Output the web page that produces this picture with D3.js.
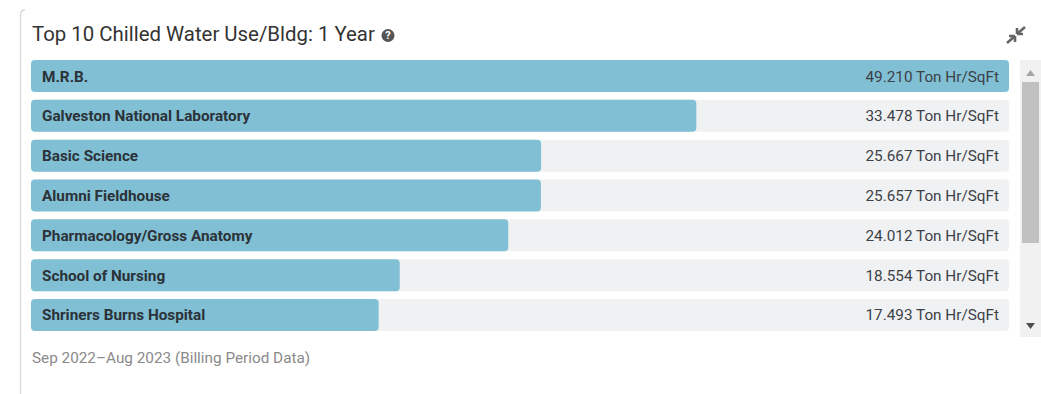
<!DOCTYPE html>
<html>
<head>
<meta charset="utf-8">
<script src="https://cdn.jsdelivr.net/npm/d3@7"></script>
<style>
  html, body { margin: 0; padding: 0; background: #fff; overflow: hidden; }
  svg { display: block; font-family: Roboto, sans-serif; }
</style>
</head>
<body>
<svg id="chart" width="1041" height="394"></svg>
<script>
// values
const buildings = ["M.R.B.", "Galveston National Laboratory", "Basic Science", "Alumni Fieldhouse",
  "Pharmacology/Gross Anatomy", "School of Nursing", "Shriners Burns Hospital"];
const useValues = [49.210, 33.478, 25.667, 25.657, 24.012, 18.554, 17.493];
const unit = "Ton Hr/SqFt";
const title = "Top 10 Chilled Water Use/Bldg: 1 Year";
const footnote = "Sep 2022\u2013Aug 2023 (Billing Period Data)";

const d3 = window.d3;
const svg = d3.select("#chart");

// card edge on the left
svg.append("path")
  .attr("d", "M20.5,394V15Q20.5,10.5 25,9.5")
  .attr("fill", "none")
  .attr("stroke", "#d9d9d9")
  .attr("stroke-width", 1.3);

svg.append("text")
  .attr("x", 32).attr("y", 41)
  .attr("font-size", 20.4)
  .attr("fill", "#333")
  .text(title);

// help icon
const help = svg.append("g").attr("transform", "translate(388,35.5)");
help.append("circle").attr("r", 6.5).attr("fill", "#555");
help.append("text")
  .attr("y", 3.9).attr("text-anchor", "middle")
  .attr("font-size", 11).attr("font-weight", 700)
  .attr("fill", "#fff")
  .text("?");

// compress icon
const compress = svg.append("g").attr("transform", "translate(1016,35)");
compress.append("path")
  .attr("d", "M1,-1L9,-8M1,-1V-7M1,-1H7")
  .attr("fill", "none").attr("stroke", "#666").attr("stroke-width", 2.6);
compress.append("path")
  .attr("d", "M-1,1L-9,8M-1,1V7M-1,1H-7")
  .attr("fill", "none").attr("stroke", "#666").attr("stroke-width", 2.6);

const left = 31, right = 1009;
const x = d3.scaleLinear().domain([0, d3.max(useValues)]).range([left, right]);
const y = d3.scaleBand()
  .domain(buildings)
  .range([60, 331])
  .paddingInner(0.196)
  .paddingOuter(0);

const rows = svg.selectAll("g.row")
  .data(buildings.map((name, i) => ({ name, value: useValues[i] })))
  .enter()
  .append("g")
  .attr("class", "row")
  .attr("transform", d => `translate(0,${y(d.name)})`);

rows.append("rect")
  .attr("x", left).attr("width", right - left)
  .attr("height", y.bandwidth()).attr("rx", 4)
  .attr("fill", "#f0f1f3");

rows.append("rect")
  .attr("x", left).attr("width", d => x(d.value) - left)
  .attr("height", y.bandwidth()).attr("rx", 4)
  .attr("fill", "#81bfd4");

rows.append("text")
  .attr("x", 42).attr("y", 21.5)
  .attr("font-size", 15.3).attr("font-weight", 700)
  .attr("fill", "#2b3238")
  .text(d => d.name);

rows.append("text")
  .attr("x", 999).attr("y", 21.5)
  .attr("text-anchor", "end")
  .attr("font-size", 15.3)
  .attr("fill", "#3c4248")
  .text(d => `${d.value.toFixed(3)} ${unit}`);

svg.append("text")
  .attr("x", 32).attr("y", 362.5)
  .attr("font-size", 15.3)
  .attr("fill", "#8a8a8a")
  .text(footnote);

// scrollbar of the list
svg.append("rect").attr("x", 1020).attr("y", 60).attr("width", 21).attr("height", 277).attr("fill", "#f1f1f1");
svg.append("rect").attr("x", 1022).attr("y", 82).attr("width", 17).attr("height", 161).attr("fill", "#c1c1c1");
svg.append("path").attr("d", "M1026,76L1030.5,70L1035,76Z").attr("fill", "#a3a3a3");
svg.append("path").attr("d", "M1026,323L1030.5,329L1035,323Z").attr("fill", "#505050");
</script>
</body>
</html>
